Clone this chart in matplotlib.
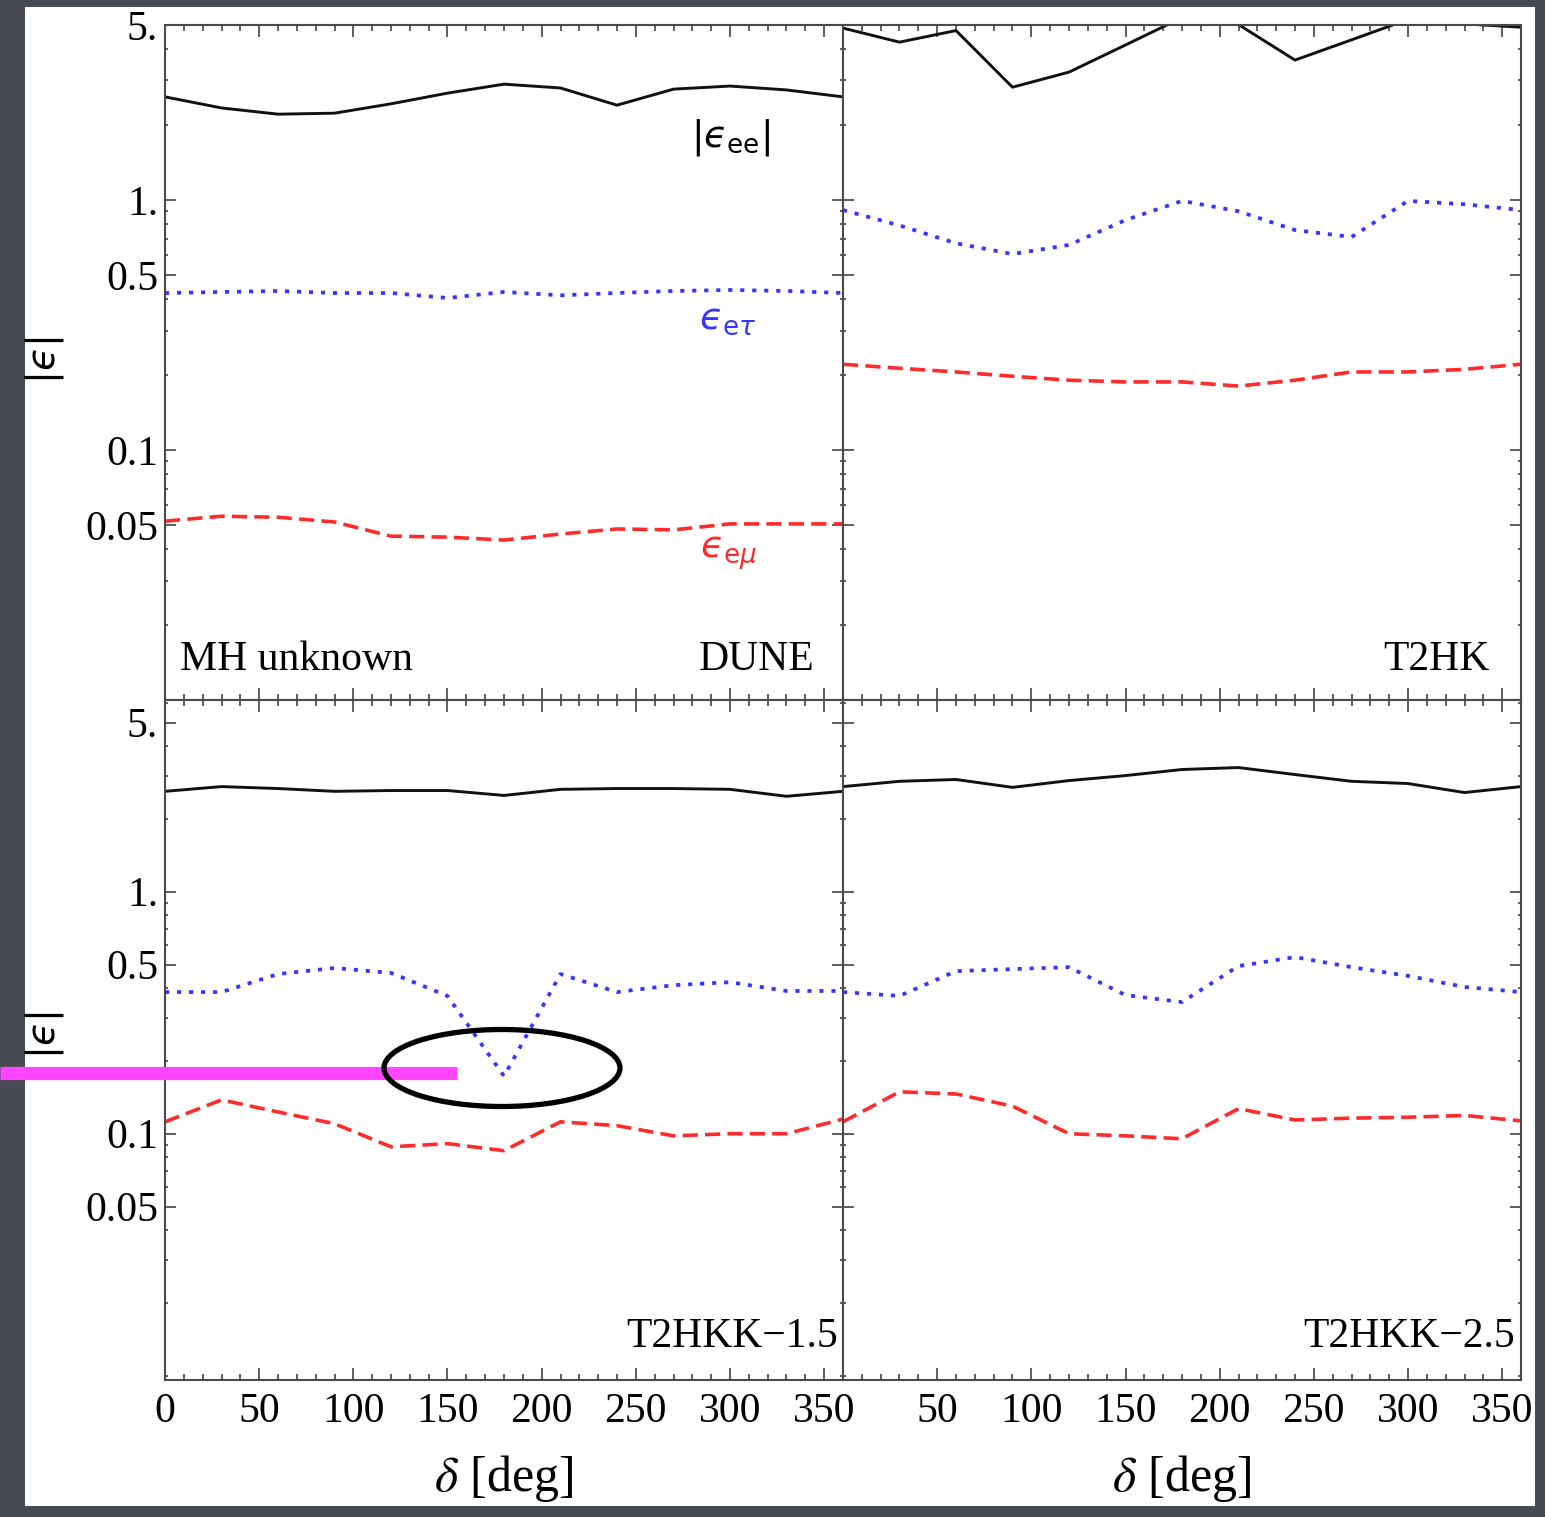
import matplotlib
matplotlib.use("Agg")
import matplotlib.pyplot as plt
from matplotlib.ticker import FixedLocator, FixedFormatter, NullFormatter
from matplotlib.patches import Rectangle, Ellipse
from matplotlib.lines import Line2D

plt.rcParams['font.family'] = ['Liberation Serif', 'DejaVu Serif']
plt.rcParams['mathtext.fontset'] = 'stix'

# ---------------- data ----------------
delta_deg = [0, 30, 60, 90, 120, 150, 180, 210, 240, 270, 300, 330, 360]

dune_ee   = [2.58, 2.33, 2.20, 2.22, 2.42, 2.67, 2.90, 2.80, 2.39, 2.77, 2.85, 2.75, 2.58]
dune_etau = [0.424, 0.428, 0.432, 0.424, 0.424, 0.405, 0.428, 0.415, 0.424, 0.432, 0.436, 0.432, 0.424]
dune_emu  = [0.0519, 0.0543, 0.0538, 0.0515, 0.0452, 0.0448, 0.0436, 0.0461, 0.0483, 0.0479, 0.0506, 0.0506, 0.0506]

t2hk_ee   = [4.86, 4.27, 4.75, 2.82, 3.24, 4.16, 5.35, 5.02, 3.62, 4.36, 5.26, 5.05, 4.90]
t2hk_etau = [0.91, 0.79, 0.67, 0.607, 0.66, 0.83, 0.99, 0.90, 0.757, 0.71, 0.99, 0.96, 0.91]
t2hk_emu  = [0.220, 0.212, 0.205, 0.197, 0.190, 0.187, 0.187, 0.180, 0.190, 0.205, 0.205, 0.210, 0.220]

t2hkk15_ee   = [2.60, 2.72, 2.67, 2.60, 2.62, 2.62, 2.50, 2.65, 2.67, 2.67, 2.65, 2.48, 2.60]
t2hkk15_etau = [0.385, 0.385, 0.457, 0.484, 0.462, 0.371, 0.173, 0.457, 0.385, 0.411, 0.423, 0.389, 0.389]
t2hkk15_emu  = [0.112, 0.138, 0.123, 0.110, 0.0883, 0.0910, 0.0851, 0.112, 0.108, 0.098, 0.100, 0.100, 0.115]

t2hkk25_ee   = [2.72, 2.86, 2.91, 2.70, 2.88, 3.02, 3.20, 3.26, 3.05, 2.86, 2.80, 2.57, 2.72]
t2hkk25_etau = [0.385, 0.371, 0.470, 0.479, 0.488, 0.374, 0.350, 0.493, 0.537, 0.488, 0.449, 0.404, 0.385]
t2hkk25_emu  = [0.112, 0.149, 0.146, 0.130, 0.100, 0.098, 0.0953, 0.127, 0.114, 0.116, 0.117, 0.119, 0.113]

ytick_vals = [0.05, 0.1, 0.5, 1, 5]
ytick_labels = ["0.05", "0.1", "0.5", "1.", "5."]
xtick_left = [0, 50, 100, 150, 200, 250, 300, 350]
xtick_right = [50, 100, 150, 200, 250, 300, 350]

panel_names = ["DUNE", "T2HK", "T2HKK\u22121.5", "T2HKK\u22122.5"]

# ---------------- figure ----------------
W, H = 1545, 1517
fig = plt.figure(figsize=(W / 100, H / 100), dpi=100)
fig.patch.set_facecolor("#464a53")

def fx(px):
    return px / W

def fy(py):
    return 1 - py / H

fig.add_artist(Rectangle((fx(25), fy(1506)), fx(1535) - fx(25), fy(7) - fy(1506),
                         transform=fig.transFigure, facecolor="white",
                         edgecolor="none", zorder=0))

xl, xm, xr = 165, 843, 1521
yt, ym, yb = 25, 700, 1380

axes_px = [
    (xl, yt, xm, ym), (xm, yt, xr, ym),
    (xl, ym, xm, yb), (xm, ym, xr, yb),
]
series = [
    (dune_ee, dune_etau, dune_emu),
    (t2hk_ee, t2hk_etau, t2hk_emu),
    (t2hkk15_ee, t2hkk15_etau, t2hkk15_emu),
    (t2hkk25_ee, t2hkk25_etau, t2hkk25_emu),
]
ylims = [(0.01, 5.0), (0.01, 5.0), (0.0096, 6.2), (0.0096, 6.2)]

minor_y = [k * 10 ** e for e in (-3, -2, -1, 0) for k in range(1, 10)]
minor_y = [v for v in minor_y if all(abs(v - m) > 1e-9 for m in ytick_vals)]

spine_col = "#4a4a4a"
blue = "#3535ff"
red = "#ff2b2b"

axes = []
for i, ((x0, y0, x1, y1), (ee, et, em)) in enumerate(zip(axes_px, series)):
    ax = fig.add_axes([fx(x0), fy(y1), fx(x1) - fx(x0), fy(y0) - fy(y1)])
    ax.set_yscale("log")
    ax.set_xlim(0, 360)
    ax.set_ylim(*ylims[i])
    ax.plot(delta_deg, ee, color="#111111", lw=2.1, solid_joinstyle="round")
    ax.plot(delta_deg, et, color=blue, lw=2.7, linestyle=(0, (1.1, 2.1)))
    ax.plot(delta_deg, em, color=red, lw=2.6, linestyle=(0, (4.2, 2.0)))

    ax.yaxis.set_major_locator(FixedLocator(ytick_vals))
    ax.yaxis.set_minor_locator(FixedLocator(minor_y))
    ax.yaxis.set_minor_formatter(NullFormatter())
    ax.xaxis.set_major_locator(FixedLocator(list(range(0, 361, 50))))
    ax.xaxis.set_minor_locator(FixedLocator(list(range(0, 361, 10))))
    ax.tick_params(which="both", direction="in", top=True, right=True,
                   color="#333333", width=1.1, labelsize=30)
    ax.tick_params(axis="x", which="major", length=8.5, pad=9)
    ax.tick_params(axis="x", which="minor", length=4.3)
    ax.tick_params(axis="y", which="major", length=8, pad=5)
    ax.tick_params(axis="y", which="minor", length=2.5)

    col = i % 2
    row = i // 2
    if col == 0:
        ax.yaxis.set_major_formatter(FixedFormatter(ytick_labels))
    else:
        ax.yaxis.set_major_formatter(NullFormatter())
    if row == 1:
        if col == 0:
            ax.xaxis.set_major_locator(FixedLocator(xtick_left))
        else:
            ax.xaxis.set_major_locator(FixedLocator(xtick_right))
        ax.xaxis.set_major_formatter(FixedFormatter(
            [str(v) for v in (xtick_left if col == 0 else xtick_right)]))
    else:
        ax.xaxis.set_major_formatter(NullFormatter())
    for s in ax.spines.values():
        s.set_color(spine_col)
        s.set_linewidth(1.5)
    axes.append(ax)

# panel labels
fig.text(fx(180), fy(660), "MH unknown", fontsize=30, ha="left", va="center")
fig.text(fx(815), fy(660), panel_names[0], fontsize=30, ha="right", va="center")
fig.text(fx(1490), fy(660), panel_names[1], fontsize=30, ha="right", va="center")
fig.text(fx(838), fy(1337), panel_names[2], fontsize=30, ha="right", va="center")
fig.text(fx(1515), fy(1337), panel_names[3], fontsize=30, ha="right", va="center")

# curve labels (lunate epsilon U+03F5, upright subscripts)
fig.text(fx(730), fy(138), "$|\u03f5_{\\mathrm{ee}}|$", fontsize=27, ha="center", va="center",
         color="black", math_fontfamily="dejavusans")
fig.text(fx(728), fy(320), "$\u03f5_{\\mathrm{e}\\tau}$", fontsize=27, ha="center", va="center",
         color=blue, math_fontfamily="dejavusans")
fig.text(fx(728), fy(553), "$\u03f5_{\\mathrm{e}\\mu}$", fontsize=27, ha="center", va="center",
         color=red, math_fontfamily="dejavusans")

# axis labels
for yc in (360, 1035):
    fig.text(fx(45), fy(yc), "$|\u03f5|$", fontsize=28, rotation=90, ha="center", va="center",
             math_fontfamily="dejavusans")
for xc in (504, 1182):
    fig.text(fx(xc), fy(1478), r"$\delta$ [deg]", fontsize=36, ha="center", va="center")

# hand-drawn annotations
fig.add_artist(Line2D([fx(0), fx(457)], [fy(1073), fy(1073)], transform=fig.transFigure,
                      color="#ff45ff", lw=9.5, solid_capstyle="butt", zorder=10))
fig.add_artist(Ellipse((fx(502), fy(1068)), fx(236), 77 / H, transform=fig.transFigure,
                       fill=False, edgecolor="black", lw=3.8, zorder=11))

fig.savefig("out.png", dpi=100, facecolor=fig.get_facecolor())
